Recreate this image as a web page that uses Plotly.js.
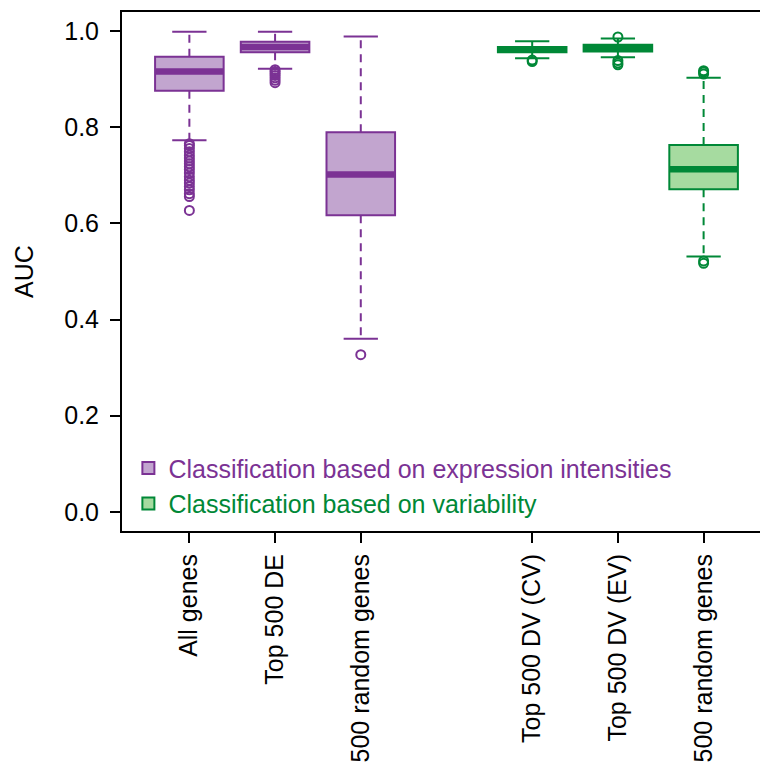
<!DOCTYPE html>
<html>
<head>
<meta charset="utf-8">
<script src="https://cdn.plot.ly/plotly-3.0.1.min.js"></script>
<style>html,body{margin:0;padding:0;background:#fff;}#chart{width:760px;height:764px;}</style>
</head>
<body>
<div id="chart"></div>
<script>
// ---- data ----
var categories = ["All genes", "Top 500 DE", "500 random genes", "Top 500 DV (CV)", "Top 500 DV (EV)", "500 random genes"];
var positions = [1, 2, 3, 5, 6, 7];

var exprPos = [1, 2, 3];
var exprLowerWhisker = [0.773, 0.922, 0.360];
var exprQ1 = [0.876, 0.956, 0.617];
var exprMedian = [0.916, 0.967, 0.702];
var exprQ3 = [0.947, 0.978, 0.790];
var exprUpperWhisker = [0.999, 0.999, 0.989];
var exprOutliers = [
  [0.766, 0.762, 0.756, 0.749, 0.742, 0.736, 0.730, 0.724, 0.718, 0.712, 0.705, 0.697, 0.690, 0.684, 0.677, 0.670, 0.662, 0.656, 0.627],
  [0.920, 0.916, 0.912, 0.908, 0.903, 0.898, 0.893],
  [0.327]
];

var varPos = [5, 6, 7];
var varLowerWhisker = [0.944, 0.946, 0.531];
var varQ1 = [0.956, 0.958, 0.671];
var varMedian = [0.962, 0.965, 0.713];
var varQ3 = [0.967, 0.972, 0.763];
var varUpperWhisker = [0.979, 0.985, 0.903];
var varOutliers = [
  [0.940, 0.937],
  [0.988, 0.939, 0.934, 0.930],
  [0.918, 0.915, 0.911, 0.522, 0.517]
];

var legendNames = ["Classification based on expression intensities", "Classification based on variability"];

// ---- styles ----
var PURPLE = "#7B3294", PURPLE_FILL = "#C2A5CF";
var GREEN = "#008837", GREEN_FILL = "#A6DBA0";
var FONT = "Liberation Sans, Arial, Helvetica, sans-serif";
var BOXW = 0.8, CAPW = 0.4;

function groupTraces(pos, lw, q1, med, q3, uw, outl, lineCol, fillCol, name) {
  var tr = [];
  var wx = [], wy = [];
  var cx = [], cy = [];
  var mx = [], my = [];
  var ox = [], oy = [];
  for (var i = 0; i < pos.length; i++) {
    wx.push(pos[i], pos[i], null, pos[i], pos[i], null);
    wy.push(q3[i], uw[i], null, q1[i], lw[i], null);
    cx.push(pos[i] - CAPW / 2, pos[i] + CAPW / 2, null, pos[i] - CAPW / 2, pos[i] + CAPW / 2, null);
    cy.push(uw[i], uw[i], null, lw[i], lw[i], null);
    mx.push(pos[i] - BOXW / 2, pos[i] + BOXW / 2, null);
    my.push(med[i], med[i], null);
    for (var k = 0; k < outl[i].length; k++) { ox.push(pos[i]); oy.push(outl[i][k]); }
  }
  tr.push({type: "scatter", mode: "lines", x: wx, y: wy, showlegend: false, hoverinfo: "skip",
    line: {color: lineCol, width: 2, dash: "8px,6px"}});
  tr.push({type: "scatter", mode: "lines", x: cx, y: cy, showlegend: false, hoverinfo: "skip",
    line: {color: lineCol, width: 2}});
  tr.push({type: "box", x: pos, q1: q1, median: med, q3: q3, lowerfence: q1, upperfence: q3,
    width: BOXW, whiskerwidth: 0, boxpoints: false, fillcolor: fillCol,
    line: {color: lineCol, width: 2}, name: '<span style="color:' + lineCol + '">' + name + '</span>',
    showlegend: true, hoverinfo: "skip"});
  tr.push({type: "scatter", mode: "lines", x: mx, y: my, showlegend: false, hoverinfo: "skip",
    line: {color: lineCol, width: 6.5}});
  tr.push({type: "scatter", mode: "markers", x: ox, y: oy, showlegend: false, hoverinfo: "skip",
    marker: {symbol: "circle-open", size: 9, color: lineCol, line: {width: 2, color: lineCol}}});
  return tr;
}

var data = [].concat(
  groupTraces(exprPos, exprLowerWhisker, exprQ1, exprMedian, exprQ3, exprUpperWhisker, exprOutliers, PURPLE, PURPLE_FILL, legendNames[0]),
  groupTraces(varPos, varLowerWhisker, varQ1, varMedian, varQ3, varUpperWhisker, varOutliers, GREEN, GREEN_FILL, legendNames[1])
);

var layout = {
  width: 760, height: 764,
  margin: {l: 122, r: 0, t: 12, b: 233, pad: 0},
  paper_bgcolor: "#fff", plot_bgcolor: "#fff",
  font: {family: FONT, size: 25, color: "#000"},
  showlegend: true,
  boxmode: "overlay",
  xaxis: {
    range: [0.214, 7.658], tickmode: "array", tickvals: positions, ticktext: categories,
    tickangle: -90, ticks: "outside", ticklen: 10, tickwidth: 2, tickcolor: "#000",
    showline: true, linecolor: "#000", linewidth: 2, mirror: true,
    showgrid: false, zeroline: false, ticklabelstandoff: 1,
    tickfont: {family: FONT, size: 25, color: "#000"}
  },
  yaxis: {
    range: [-0.04, 1.04], tickmode: "array", tickvals: [0, 0.2, 0.4, 0.6, 0.8, 1.0],
    ticktext: ["0.0", "0.2", "0.4", "0.6", "0.8", "1.0"],
    ticks: "outside", ticklen: 10, tickwidth: 2, tickcolor: "#000",
    showline: true, linecolor: "#000", linewidth: 2, mirror: false,
    showgrid: false, zeroline: false, ticklabelstandoff: 6,
    tickfont: {family: FONT, size: 25, color: "#000"},
    title: {text: "AUC", font: {family: FONT, size: 25, color: "#000"}, standoff: 23}
  },
  legend: {
    x: 0.01, xanchor: "left", y: 0.165, yanchor: "top",
    bgcolor: "rgba(0,0,0,0)", borderwidth: 0,
    font: {family: FONT, size: 25}, tracegroupgap: 0, itemwidth: 30
  }
};

Plotly.newPlot("chart", data, layout, {displayModeBar: false, staticPlot: true});
</script>
</body>
</html>
